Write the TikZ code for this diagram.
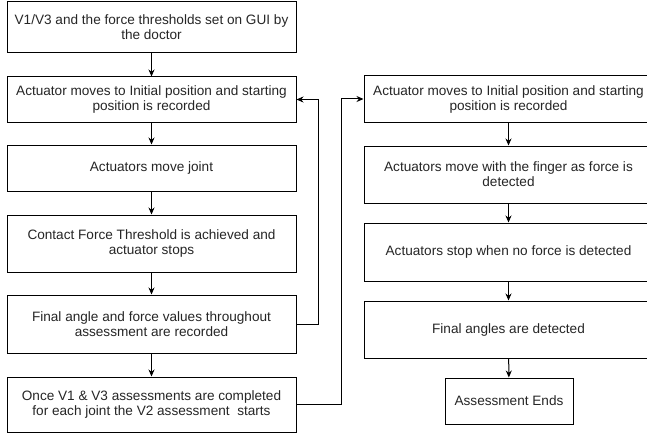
\documentclass[tikz,border=0pt]{standalone}
\usepackage{fontspec}
\setmainfont{Liberation Sans}
\usetikzlibrary{arrows.meta}
\begin{document}
\begin{tikzpicture}[x=1pt,y=-1pt,
  box/.style={draw=black, line width=1pt, fill=white, text=black!85, align=center,
    inner sep=0pt, minimum width=289pt,
    font=\fontsize{13.6pt}{15pt}\selectfont},
  arr/.style={line width=1pt, -{Stealth[length=7pt,width=6pt]}}]
\useasboundingbox (0,0) rectangle (647,433);
\clip (0,0) rectangle (647,433);
\fill[white] (0,0) rectangle (647,433);
\node[box, minimum height=51pt] (b1) at (151.5,27.5) {V1/V3 and the force thresholds set on GUI by\\the doctor};
\node[box, minimum height=45pt] (b2) at (151.5,99.5) {Actuator moves to Initial position and starting\\position is recorded};
\node[box, minimum height=46pt] (b3) at (151.5,168) {Actuators move joint};
\node[box, minimum height=57pt] (b4) at (151.5,243.5) {Contact Force Threshold is achieved and\\actuator stops};
\node[box, minimum height=58pt] (b5) at (151.5,324) {Final angle and force values throughout\\assessment are recorded};
\node[box, minimum height=55pt] (b6) at (151.5,404.5) {Once V1 \& V3 assessments are completed\\for each joint the V2 assessment\ \ starts};
\node[box, minimum height=46pt] (r1) at (508.5,99) {Actuator moves to Initial position and starting\\position is recorded};
\node[box, minimum height=57pt] (r2) at (508.5,174.5) {Actuators move with the finger as force is\\detected};
\node[box, minimum height=58pt] (r3) at (508.5,252) {Actuators stop when no force is detected};
\node[box, minimum height=57pt] (r4) at (508.5,329.5) {Final angles are detected};
\node[box, minimum height=46pt, minimum width=128pt] (r5) at (509,401) {Assessment Ends};
\draw[arr] (b1) -- (b2);
\draw[arr] (b2) -- (b3);
\draw[arr] (b3) -- (b4);
\draw[arr] (b4) -- (b5);
\draw[arr] (b5) -- (b6);
\draw[arr] (b5.east) -- ++(22,0) |- (b2.east);
\draw[arr] (b6.east) -- ++(45,0) |- (r1.west);
\draw[arr] (r1) -- (r2);
\draw[arr] (r2) -- (r3);
\draw[arr] (r3) -- (r4);
\draw[arr] (r4) -- (r5);
\end{tikzpicture}
\end{document}
